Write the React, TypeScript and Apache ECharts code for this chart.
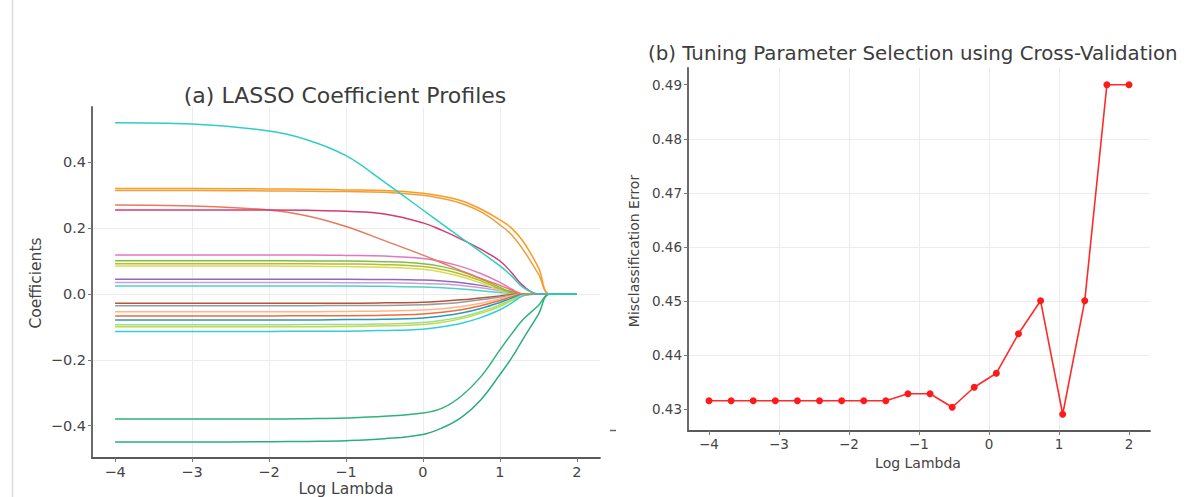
import React, { useEffect, useRef } from "react";
import * as echarts from "echarts";

// ---------- (a) LASSO coefficient paths ----------
const PATH_LAMBDA = [-4, -3, -2, -1.5, -1, -0.5, 0, 0.25, 0.5, 0.75, 1, 1.15, 1.3, 1.5, 1.65, 2];

const cyanTop = [0.52, 0.516, 0.495, 0.468, 0.42, 0.34, 0.255, 0.212, 0.17, 0.128, 0.085, 0.055, 0.02, 0, 0, 0];
const orangeA = [0.32, 0.32, 0.319, 0.318, 0.316, 0.314, 0.306, 0.297, 0.283, 0.258, 0.225, 0.2, 0.16, 0.08, 0, 0];
const orangeB = [0.314, 0.314, 0.313, 0.312, 0.311, 0.309, 0.3, 0.29, 0.275, 0.25, 0.21, 0.18, 0.135, 0.06, 0, 0];
const redDecl = [0.27, 0.267, 0.255, 0.237, 0.205, 0.162, 0.118, 0.094, 0.07, 0.047, 0.026, 0.012, 0, 0, 0, 0];
const crimson = [0.255, 0.255, 0.255, 0.254, 0.251, 0.243, 0.216, 0.193, 0.166, 0.136, 0.1, 0.065, 0.025, 0, 0, 0];
const pinkLt = [0.118, 0.118, 0.118, 0.118, 0.117, 0.115, 0.108, 0.098, 0.083, 0.062, 0.035, 0.015, 0, 0, 0, 0];
const green1 = [0.101, 0.101, 0.101, 0.1, 0.1, 0.098, 0.092, 0.083, 0.068, 0.046, 0.02, 0.005, 0, 0, 0, 0];
const olive = [0.092, 0.092, 0.092, 0.092, 0.091, 0.089, 0.083, 0.074, 0.06, 0.04, 0.016, 0.003, 0, 0, 0, 0];
const yellowG = [0.085, 0.085, 0.085, 0.084, 0.083, 0.081, 0.075, 0.066, 0.052, 0.033, 0.012, 0.002, 0, 0, 0, 0];
const purple = [0.045, 0.045, 0.045, 0.045, 0.045, 0.044, 0.042, 0.039, 0.034, 0.026, 0.015, 0.007, 0, 0, 0, 0];
const lilac = [0.035, 0.035, 0.035, 0.035, 0.034, 0.034, 0.032, 0.03, 0.026, 0.019, 0.01, 0.004, 0, 0, 0, 0];
const tealPos = [0.024, 0.024, 0.024, 0.024, 0.024, 0.023, 0.021, 0.019, 0.015, 0.01, 0.004, 0.001, 0, 0, 0, 0];
const brownNeg = [-0.028, -0.028, -0.028, -0.028, -0.028, -0.027, -0.025, -0.022, -0.018, -0.012, -0.006, -0.002, 0, 0, 0, 0];
const grayNeg = [-0.036, -0.036, -0.036, -0.036, -0.035, -0.035, -0.033, -0.03, -0.025, -0.018, -0.009, -0.004, 0, 0, 0, 0];
const salmonNeg = [-0.054, -0.054, -0.054, -0.054, -0.053, -0.052, -0.049, -0.045, -0.038, -0.028, -0.015, -0.006, 0, 0, 0, 0];
const orangeNeg = [-0.067, -0.067, -0.067, -0.066, -0.066, -0.065, -0.061, -0.056, -0.048, -0.036, -0.02, -0.009, 0, 0, 0, 0];
const blueNeg = [-0.079, -0.079, -0.079, -0.079, -0.078, -0.077, -0.073, -0.067, -0.058, -0.044, -0.026, -0.013, -0.002, 0, 0, 0];
const ltGreenNeg = [-0.094, -0.094, -0.094, -0.093, -0.093, -0.091, -0.087, -0.08, -0.07, -0.054, -0.033, -0.018, -0.004, 0, 0, 0];
const ygNeg = [-0.1, -0.1, -0.1, -0.1, -0.099, -0.097, -0.093, -0.086, -0.075, -0.059, -0.038, -0.021, -0.005, 0, 0, 0];
const cyanNeg = [-0.114, -0.114, -0.114, -0.113, -0.113, -0.111, -0.107, -0.1, -0.089, -0.072, -0.048, -0.028, -0.006, 0, 0, 0];
const greenA = [-0.38, -0.38, -0.38, -0.379, -0.377, -0.372, -0.362, -0.347, -0.31, -0.252, -0.17, -0.122, -0.078, -0.035, 0, 0];
const greenB = [-0.45, -0.45, -0.449, -0.448, -0.446, -0.44, -0.427, -0.407, -0.375, -0.322, -0.245, -0.195, -0.137, -0.062, 0, 0];

const PATHS: [number[], string][] = [
  [tealPos, "#4fd1c5"],
  [lilac, "#c9a0dc"],
  [purple, "#9467bd"],
  [yellowG, "#d4dc5a"],
  [olive, "#bcbd22"],
  [green1, "#7cbf4a"],
  [pinkLt, "#e377c2"],
  [brownNeg, "#b5533c"],
  [grayNeg, "#9a9a9a"],
  [salmonNeg, "#ffb48a"],
  [orangeNeg, "#f26b3a"],
  [blueNeg, "#2a9bb5"],
  [ltGreenNeg, "#98df8a"],
  [ygNeg, "#c6d84e"],
  [cyanNeg, "#2fd0d8"],
  [redDecl, "#e8795e"],
  [crimson, "#d63a6e"],
  [orangeB, "#e9a040"],
  [orangeA, "#ff9a1f"],
  [greenA, "#2fb37a"],
  [greenB, "#2cae7c"],
  [cyanTop, "#2ccfc6"],
];

const PATH_X_TICKS = [-4, -3, -2, -1, 0, 1, 2];
const PATH_Y_TICKS = [-0.4, -0.2, 0, 0.2, 0.4];

// ---------- (b) cross-validation ----------
const CV_LAMBDA = [-4, -3.684, -3.368, -3.053, -2.737, -2.421, -2.105, -1.789, -1.474, -1.158, -0.842, -0.526, -0.211, 0.105, 0.421, 0.737, 1.053, 1.368, 1.684, 2];
const CV_ERROR = [0.4315, 0.4315, 0.4315, 0.4315, 0.4315, 0.4315, 0.4315, 0.4315, 0.4315, 0.4328, 0.4328, 0.4303, 0.434, 0.4366, 0.4439, 0.45, 0.429, 0.45, 0.49, 0.49];
const CV_X_TICKS = [-4, -3, -2, -1, 0, 1, 2];
const CV_Y_TICKS = [0.43, 0.44, 0.45, 0.46, 0.47, 0.48, 0.49];

const FONT = "DejaVu Sans";
const minus = (s: string) => s.replace("-", "\u2212");

function axisCommon(ticks: number[], fmt: (v: number) => string, fontSize: number) {
  return {
    axisLine: { show: true, onZero: false, lineStyle: { color: "#5a5a5a", width: 1.8 } },
    axisTick: { show: true, length: 4, customValues: ticks, lineStyle: { color: "#777", width: 1 } },
    axisLabel: {
      customValues: ticks,
      formatter: (v: number) => fmt(v),
      fontSize,
      fontFamily: FONT,
      color: "#444",
      margin: 6,
    },
    splitLine: { show: true, showMinLine: false, showMaxLine: false, lineStyle: { color: "#ececec", width: 1 } },
  };
}

export default function App() {
  const ref = useRef<HTMLDivElement>(null);
  useEffect(() => {
    document.body.style.margin = "0";
    const chart = echarts.init(ref.current!, undefined, { renderer: "svg" });
    const pathSeries = PATHS.map(([vals, color]) => ({
      type: "line",
      xAxisIndex: 0,
      yAxisIndex: 0,
      data: PATH_LAMBDA.map((x, i) => [x, vals[i]]),
      showSymbol: false,
      symbol: "none",
      smooth: 0.4,
      lineStyle: { color, width: 1.5 },
      silent: true,
    }));
    chart.setOption({
      animation: false,
      backgroundColor: "#ffffff",
      grid: [
        { left: 92, top: 107, width: 508, height: 351 },
        { left: 688, top: 68, width: 462, height: 363 },
      ],
      xAxis: [
        { type: "value", gridIndex: 0, min: -4.3, max: 2.3, ...axisCommon(PATH_X_TICKS, (v) => minus(String(v)), 14.5) },
        { type: "value", gridIndex: 1, min: -4.3, max: 2.3, ...axisCommon(CV_X_TICKS, (v) => minus(String(v)), 13.5) },
      ],
      yAxis: [
        { type: "value", gridIndex: 0, min: -0.4985, max: 0.568, ...axisCommon(PATH_Y_TICKS, (v) => minus(v.toFixed(1)), 14.5) },
        { type: "value", gridIndex: 1, min: 0.4259, max: 0.4931, ...axisCommon(CV_Y_TICKS, (v) => v.toFixed(2), 13.5) },
      ],
      series: [
        ...pathSeries,
        {
          type: "line",
          xAxisIndex: 1,
          yAxisIndex: 1,
          data: CV_LAMBDA.map((x, i) => [x, CV_ERROR[i]]),
          symbol: "circle",
          symbolSize: 7,
          itemStyle: { color: "#ff1a1a" },
          lineStyle: { color: "#ff2a2a", width: 1.6 },
          silent: true,
        },
      ],
      graphic: [
        { type: "line", shape: { x1: 12.5, y1: 0, x2: 12.5, y2: 497 }, style: { stroke: "#dcdcdc", lineWidth: 1.5 } },
        { type: "line", shape: { x1: 610, y1: 430.5, x2: 616, y2: 430.5 }, style: { stroke: "#666", lineWidth: 1.5 } },
        {
          type: "text",
          x: 345,
          y: 95,
          style: { text: "(a) LASSO Coefficient Profiles", fontSize: 22, fontFamily: FONT, fill: "#3c3c3c", align: "center", verticalAlign: "middle" },
        },
        {
          type: "text",
          x: 648,
          y: 53,
          style: { text: "(b) Tuning Parameter Selection using Cross-Validation", fontSize: 19.8, fontFamily: FONT, fill: "#3c3c3c", align: "left", verticalAlign: "middle" },
        },
        {
          type: "text",
          x: 36,
          y: 283,
          rotation: Math.PI / 2,
          style: { text: "Coefficients", fontSize: 15.5, fontFamily: FONT, fill: "#444", align: "center", verticalAlign: "middle" },
        },
        {
          type: "text",
          x: 346,
          y: 489,
          style: { text: "Log Lambda", fontSize: 15.5, fontFamily: FONT, fill: "#444", align: "center", verticalAlign: "middle" },
        },
        {
          type: "text",
          x: 634,
          y: 251,
          rotation: Math.PI / 2,
          style: { text: "Misclassification Error", fontSize: 14, fontFamily: FONT, fill: "#444", align: "center", verticalAlign: "middle" },
        },
        {
          type: "text",
          x: 918,
          y: 463,
          style: { text: "Log Lambda", fontSize: 14, fontFamily: FONT, fill: "#444", align: "center", verticalAlign: "middle" },
        },
      ],
    });
    return () => chart.dispose();
  }, []);
  return <div ref={ref} style={{ width: 1185, height: 497 }} />;
}
